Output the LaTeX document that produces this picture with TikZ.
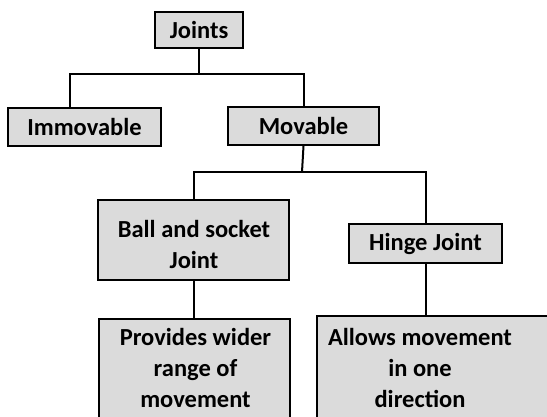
\documentclass[tikz,border=0pt]{standalone}
\usepackage{fontspec}
\setmainfont{Carlito}
\begin{document}
\begin{tikzpicture}[x=1pt,y=-1pt,
  box/.style={draw=black, line width=2.2pt, fill=black!14, rectangle, inner sep=0pt},
  txt/.style={inner sep=0pt, align=center, font=\bfseries\fontsize{24.5}{31}\selectfont},
  link/.style={line width=2pt}]
\useasboundingbox (0,0) rectangle (547,416);
\clip (0,0) rectangle (547,416);
% boxes
\node[box, txt, minimum width=88pt, minimum height=36pt] (joints) at (199,30) {Joints};
\node[box, txt, minimum width=153pt, minimum height=38pt] (immovable) at (84.5,127) {Immovable};
\node[box, txt, minimum width=151pt, minimum height=38pt] (movable) at (303.5,126) {Movable};
\node[box, minimum width=191pt, minimum height=80pt] (ball) at (193.5,240) {};
\node[txt] (balltxt) at (194,244) {Ball and socket\\Joint};
\node[box, txt, minimum width=153pt, minimum height=39pt] (hinge) at (425.5,243.5) {Hinge Joint};
\node[box, minimum width=191pt, minimum height=130pt, anchor=north west] (provides) at (98,318) {};
\node[txt] (provtxt) at (195.5,368) {Provides wider\\range of\\movement};
\node[box, minimum width=260pt, minimum height=130pt, anchor=north west] (allows) at (316,315) {};
\node[txt] (allowtxt) at (420,368) {Allows movement\\in one\\direction};
% junction points
\coordinate (imtop) at (70,108);
\coordinate (j1) at (199,74);
\coordinate (j2) at (302,172);
% connectors
\draw[link] (joints.south) -- (j1);
\draw[link] (j1) -| (imtop);
\draw[link] (j1) -| (movable.north);
\draw[link] (movable.south) -- (j2);
\draw[link] (j2) -| (ball.north);
\draw[link] (j2) -| (hinge.north);
\draw[link] (ball.south) -- (ball.south |- provides.north);
\draw[link] (hinge.south) -- (hinge.south |- allows.north);
\end{tikzpicture}
\end{document}
